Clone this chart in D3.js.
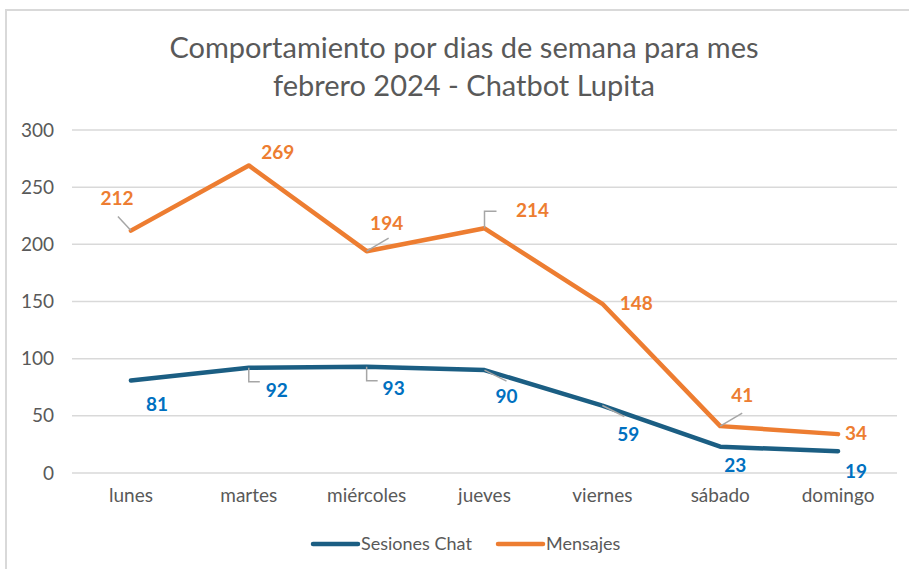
<!DOCTYPE html>
<html lang="es">
<head>
<meta charset="utf-8">
<title>Chatbot Lupita</title>
<script src="https://d3js.org/d3.v7.min.js"></script>
<style>
  body { margin: 0; background: #fff; }
  svg text { font-family: Lato, "Open Sans", sans-serif; }
</style>
</head>
<body>
<script>
// data
var dias = ["lunes", "martes", "miércoles", "jueves", "viernes", "sábado", "domingo"];
var sesionesChat = [81, 92, 93, 90, 59, 23, 19];
var mensajes = [212, 269, 194, 214, 148, 41, 34];
var yTicks = [0, 50, 100, 150, 200, 250, 300];
var titleLines = ["Comportamiento por dias de semana para mes", "febrero 2024 - Chatbot Lupita"];

// label placement (dx, dy from point) and leader style
var msgLabelOffset = [[-14, -30], [29, -11], [20, -26], [48, -16], [34, 1], [22, -29], [18, 1]];
var msgLeader = ["diag", null, "diag", "elbowUp", null, "diag", null];
var sesLabelOffset = [[26, 26], [28, 24], [27, 23], [22, 28], [26, 31], [15, 20], [18, 22]];
var sesLeader = [null, "elbowDown", "elbowDown", "diag", "diag", null, null];

var W = 909, H = 569;
var margin = { left: 72, right: 12, top: 130, bottom: 96 };

var svg = d3.select("body").append("svg")
    .attr("width", W).attr("height", H);

// chart frame
svg.append("path")
    .attr("d", "M6,569 V10 H909")
    .attr("fill", "none")
    .attr("stroke", "#d9d9d9")
    .attr("stroke-width", 2);

var x = d3.scaleBand().domain(dias).range([margin.left, W - margin.right]);
var y = d3.scaleLinear().domain([0, 300]).range([H - margin.bottom, margin.top]);
var cx = function (d) { return x(d) + x.bandwidth() / 2; };

// title
svg.append("text")
    .attr("x", 464).attr("y", 58)
    .attr("text-anchor", "middle")
    .attr("fill", "#595959")
    .style("font-size", "29px")
    .selectAll("tspan").data(titleLines).enter().append("tspan")
    .attr("x", 464)
    .attr("dy", function (d, i) { return i ? 38 : 0; })
    .text(function (d) { return d; });

// gridlines
svg.append("g").selectAll("line").data(yTicks).enter().append("line")
    .attr("x1", margin.left).attr("x2", W - margin.right)
    .attr("y1", function (d) { return y(d); })
    .attr("y2", function (d) { return y(d); })
    .attr("stroke", "#d9d9d9").attr("stroke-width", 1.5);

// y axis
var yAxis = svg.append("g")
    .attr("transform", "translate(" + (margin.left - 18) + ",0)")
    .call(d3.axisLeft(y).tickValues(yTicks).tickSize(0).tickPadding(0));
yAxis.select(".domain").remove();
yAxis.selectAll("text").attr("fill", "#595959").style("font-size", "19px");

// x axis
var xAxis = svg.append("g")
    .attr("transform", "translate(0," + (H - margin.bottom) + ")")
    .call(d3.axisBottom(x).tickSize(0).tickPadding(16));
xAxis.select(".domain").remove();
xAxis.selectAll("text").attr("fill", "#595959").style("font-size", "19px");

var line = d3.line()
    .x(function (d, i) { return cx(dias[i]); })
    .y(function (d) { return y(d); });

function drawSeries(values, color, labelColor, offsets, leaders) {
    svg.append("path")
        .datum(values)
        .attr("d", line)
        .attr("fill", "none")
        .attr("stroke", color)
        .attr("stroke-width", 4.5)
        .attr("stroke-linejoin", "round")
        .attr("stroke-linecap", "round");

    var g = svg.append("g");
    values.forEach(function (v, i) {
        var px = cx(dias[i]), py = y(v);
        var lx = px + offsets[i][0], ly = py + offsets[i][1];
        var kind = leaders[i];
        var d = null;
        if (kind === "diag") {
            // short line from point toward the label
            var ex, ey;
            if (offsets[i][1] > 0) { ex = px + 22; ey = py + 11; }
            else if (offsets[i][0] > 0) { ex = px + 22; ey = py - 13; }
            else { ex = px - 13; ey = py - 14; }
            d = "M" + px + "," + py + "L" + ex + "," + ey;
        } else if (kind === "elbowUp") {
            d = "M" + px + "," + py + "V" + (py - 17) + "H" + (px + 12);
        } else if (kind === "elbowDown") {
            d = "M" + px + "," + py + "V" + (py + 14) + "H" + (px + 11);
        }
        if (d) {
            g.append("path").attr("d", d)
                .attr("fill", "none").attr("stroke", "#a6a6a6").attr("stroke-width", 1.5);
        }
        g.append("text")
            .attr("x", lx).attr("y", ly)
            .attr("text-anchor", "middle")
            .attr("dominant-baseline", "middle")
            .attr("fill", labelColor)
            .style("font-size", "19px")
            .style("font-weight", "bold")
            .text(v);
    });
}

drawSeries(sesionesChat, "#1b5e83", "#0070c0", sesLabelOffset, sesLeader);
drawSeries(mensajes, "#ed7d31", "#ed7d31", msgLabelOffset, msgLeader);

// legend
var legendItems = [["Sesiones Chat", "#1b5e83", 313], ["Mensajes", "#ed7d31", 498]];
var lg = svg.append("g").selectAll("g").data(legendItems).enter().append("g")
    .attr("transform", function (d) { return "translate(" + d[2] + ",544)"; });
lg.append("line")
    .attr("x1", 0).attr("x2", 45)
    .attr("stroke", function (d) { return d[1]; })
    .attr("stroke-width", 4.5)
    .attr("stroke-linecap", "round");
lg.append("text")
    .attr("x", 48).attr("dy", "0.35em")
    .attr("fill", "#595959")
    .style("font-size", "18px")
    .text(function (d) { return d[0]; });
</script>
</body>
</html>
